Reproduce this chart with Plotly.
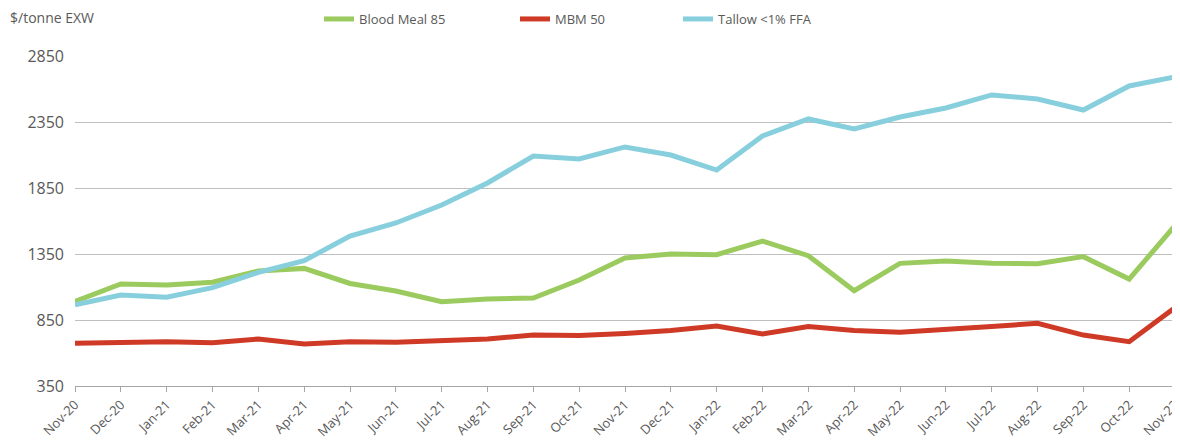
import plotly.graph_objects as go

months = ["Nov-20", "Dec-20", "Jan-21", "Feb-21", "Mar-21", "Apr-21", "May-21", "Jun-21",
          "Jul-21", "Aug-21", "Sep-21", "Oct-21", "Nov-21", "Dec-21", "Jan-22", "Feb-22",
          "Mar-22", "Apr-22", "May-22", "Jun-22", "Jul-22", "Aug-22", "Sep-22", "Oct-22", "Nov-22"]

blood_meal = [990, 1123, 1115, 1136, 1221, 1241, 1127, 1070, 989, 1009, 1017, 1153, 1320, 1350,
              1345, 1448, 1337, 1072, 1279, 1297, 1279, 1276, 1330, 1160, 1565]
mbm = [673, 681, 686, 678, 706, 668, 686, 681, 691, 706, 736, 733, 748, 770,
       805, 744, 800, 770, 757, 774, 800, 825, 736, 686, 943]
tallow = [966, 1039, 1022, 1095, 1211, 1299, 1486, 1585, 1721, 1888, 2092, 2070, 2161, 2100,
          1986, 2244, 2373, 2297, 2388, 2456, 2555, 2524, 2441, 2623, 2691]

y_ticks = [350, 850, 1350, 1850, 2350, 2850]

FONT = "Open Sans, Lato, sans-serif"
GREY = "#595959"

# the page body has an 8px margin, so the figure is sized to end at the window edge
W, H = 1172, 433

fig = go.Figure()
series = [
    ("Blood Meal 85", blood_meal, "#9BCB5F", "legend"),
    ("MBM 50", mbm, "#CF3A26", "legend2"),
    ("Tallow <1% FFA", tallow, "#88CFDE", "legend3"),
]
for name, vals, color, lg in series:
    fig.add_trace(go.Scatter(x=months, y=vals, name=name, mode="lines",
                             line=dict(color=color, width=5), legend=lg))

leg_common = dict(orientation="h", xref="container", yref="container", yanchor="middle",
                  y=1 - 11 / H, bgcolor="rgba(0,0,0,0)",
                  font=dict(family=FONT, size=13, color=GREY), itemwidth=30,
                  tracegroupgap=0)
fig.update_layout(
    width=W, height=H,
    margin=dict(l=67, r=5, t=48, b=55, autoexpand=False),
    plot_bgcolor="white", paper_bgcolor="white",
    font=dict(family=FONT, size=13, color=GREY),
    showlegend=True,
    legend=dict(x=311 / W, **leg_common),
    legend2=dict(x=507 / W, **leg_common),
    legend3=dict(x=670 / W, **leg_common),
    xaxis=dict(type="category", range=[0, len(months) - 1], showgrid=False,
               automargin=False,
               showline=True, linecolor="#A6A6A6", linewidth=1.2,
               ticks="outside", ticklen=5, tickcolor="#A6A6A6", tickangle=-45,
               ticklabelstandoff=0,
               tickfont=dict(family=FONT, size=13, color=GREY)),
    yaxis=dict(range=[350, 2850], tickvals=y_ticks, showgrid=True, gridcolor="#BFBFBF",
               gridwidth=1.2, zeroline=False, showline=False, ticks="",
               automargin=False, ticklabelstandoff=10,
               tickfont=dict(family=FONT, size=16, color=GREY)),
    annotations=[dict(text="$/tonne EXW", xref="paper", yref="paper",
                      x=-67 / 1100, y=1 + 38 / 330, xanchor="left", yanchor="middle",
                      showarrow=False, font=dict(family=FONT, size=14, color=GREY))],
)

fig.write_html("out.html")
